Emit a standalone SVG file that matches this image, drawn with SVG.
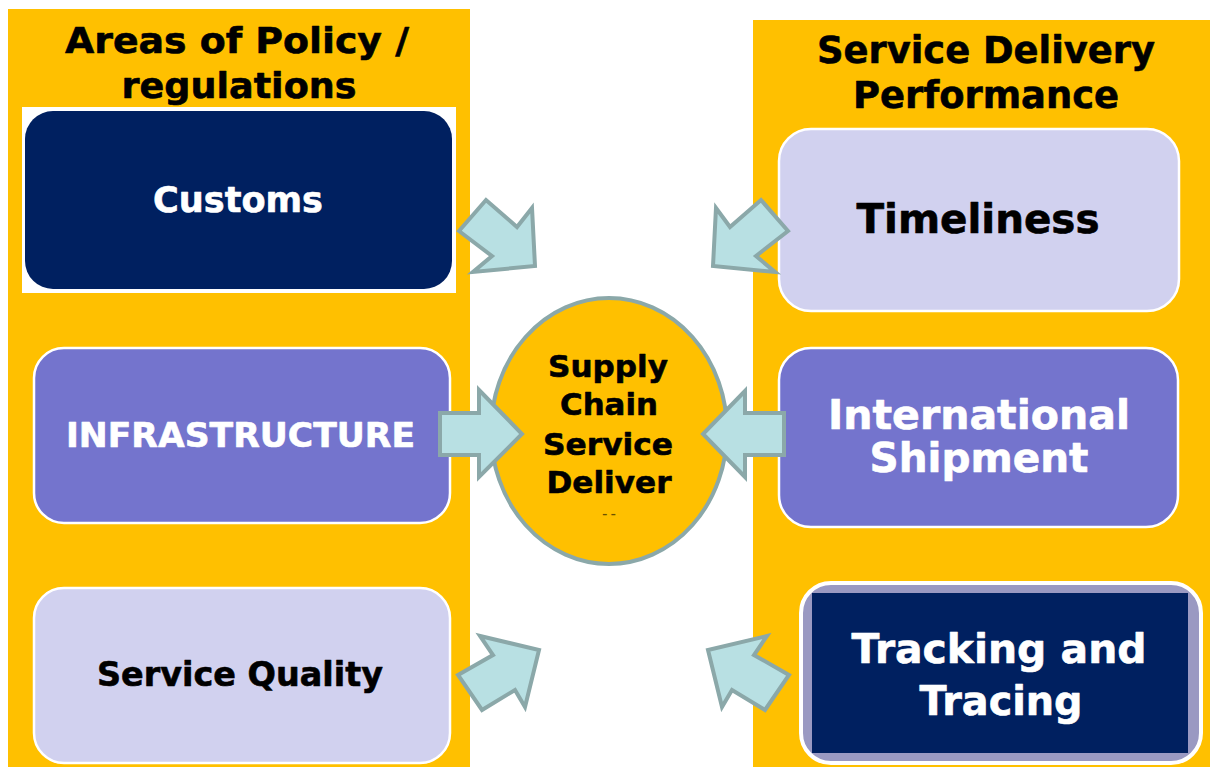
<svg xmlns="http://www.w3.org/2000/svg" width="1210" height="767" viewBox="0 0 1210 767">
  <style>
    .lbl { font-family: "DejaVu Sans", Verdana, "Liberation Sans", sans-serif; font-weight: bold; text-anchor: middle; stroke-width: 0.6; stroke-linejoin: round; }
    .dark { fill: #000000; stroke: #000000; }
    .light { fill: #ffffff; stroke: #ffffff; }
    .panel { fill: #ffc000; }
    .navy { fill: #002060; }
    .violet { fill: #7474cd; stroke: #ffffff; stroke-width: 2.5; }
    .lavender { fill: #d1d1ef; stroke: #ffffff; stroke-width: 2.5; }
    .arrow { fill: #b8e0e3; stroke: #8ba8a9; stroke-width: 4; stroke-linejoin: miter; }
  </style>

  <rect width="1210" height="767" fill="#ffffff"/>

  <!-- side panels -->
  <g id="panel-policy">
    <rect class="panel" x="8" y="9" width="462" height="758"/>
    <text class="lbl dark" x="237" y="53" font-size="36" textLength="344" lengthAdjust="spacingAndGlyphs">Areas of Policy /</text>
    <text class="lbl dark" x="239" y="98" font-size="36" textLength="235" lengthAdjust="spacingAndGlyphs">regulations</text>
  </g>
  <g id="panel-performance">
    <rect class="panel" x="753" y="20" width="457" height="747"/>
    <text class="lbl dark" x="986" y="63" font-size="37" textLength="338" lengthAdjust="spacingAndGlyphs">Service Delivery</text>
    <text class="lbl dark" x="986" y="108" font-size="37" textLength="266" lengthAdjust="spacingAndGlyphs">Performance</text>
  </g>

  <!-- left column nodes -->
  <g id="node-customs">
    <rect x="22" y="107" width="434" height="186" fill="#ffffff"/>
    <rect class="navy" x="25" y="111" width="427" height="178" rx="28"/>
    <text class="lbl light" x="238" y="212" font-size="35" textLength="170" lengthAdjust="spacingAndGlyphs">Customs</text>
  </g>
  <g id="node-infrastructure">
    <rect class="violet" x="34" y="348" width="416" height="175" rx="30"/>
    <text class="lbl light" x="240.5" y="447" font-size="33" textLength="349" lengthAdjust="spacingAndGlyphs">INFRASTRUCTURE</text>
  </g>
  <g id="node-service-quality">
    <rect class="lavender" x="34" y="588" width="416" height="175" rx="30"/>
    <text class="lbl dark" x="240" y="686" font-size="33" textLength="286" lengthAdjust="spacingAndGlyphs">Service Quality</text>
  </g>

  <!-- right column nodes -->
  <g id="node-timeliness">
    <rect class="lavender" x="779" y="129" width="400" height="182" rx="32"/>
    <text class="lbl dark" x="978" y="233" font-size="40" textLength="243" lengthAdjust="spacingAndGlyphs">Timeliness</text>
  </g>
  <g id="node-shipment">
    <rect class="violet" x="779" y="348" width="399" height="179" rx="32"/>
    <text class="lbl light" x="979" y="429" font-size="40" textLength="302" lengthAdjust="spacingAndGlyphs">International</text>
    <text class="lbl light" x="979" y="472" font-size="40" textLength="219" lengthAdjust="spacingAndGlyphs">Shipment</text>
  </g>
  <g id="node-tracking">
    <rect x="801" y="583" width="400" height="180" rx="30" fill="#9a99c2" stroke="#ffffff" stroke-width="4"/>
    <rect class="navy" x="812" y="593" width="376" height="160"/>
    <text class="lbl light" x="999" y="663" font-size="40" textLength="295" lengthAdjust="spacingAndGlyphs">Tracking and</text>
    <text class="lbl light" x="1001" y="715" font-size="40" textLength="163" lengthAdjust="spacingAndGlyphs">Tracing</text>
  </g>

  <!-- central hub -->
  <g id="node-hub">
    <ellipse cx="609" cy="431" rx="118" ry="133" fill="#ffc000" stroke="#8ba8a9" stroke-width="4"/>
    <text class="lbl dark" x="608" y="377" font-size="31" textLength="120" lengthAdjust="spacingAndGlyphs">Supply</text>
    <text class="lbl dark" x="609" y="415" font-size="31" textLength="98" lengthAdjust="spacingAndGlyphs">Chain</text>
    <text class="lbl dark" x="608" y="455" font-size="31" textLength="130" lengthAdjust="spacingAndGlyphs">Service</text>
    <text class="lbl dark" x="609" y="493" font-size="31" textLength="125" lengthAdjust="spacingAndGlyphs">Deliver</text>
    <text x="609" y="518" font-family="DejaVu Sans, sans-serif" font-weight="bold" font-size="10" text-anchor="middle" fill="#6b5200">– –</text>
  </g>

  <!-- block arrows pointing into the hub -->
  <g id="connectors">
    <polygon class="arrow" points="459,231 486,200 517,227 532,208 535,266 473,272 492,256"/>
    <polygon class="arrow" points="788,231 761,200 730,227 716,208 713,266 775,272 756,256"/>
    <polygon class="arrow" points="440,413 479,413 479,390 522,434 479,477 479,455 440,455"/>
    <polygon class="arrow" points="784,413 745,413 745,391 703,434 745,477 745,455 784,455"/>
    <polygon class="arrow" points="458,675 493,655 480,636 539,650 525,707 515,690 482,710"/>
    <polygon class="arrow" points="789,675 754,655 767,636 708,650 722,707 732,690 765,710"/>
  </g>
</svg>
